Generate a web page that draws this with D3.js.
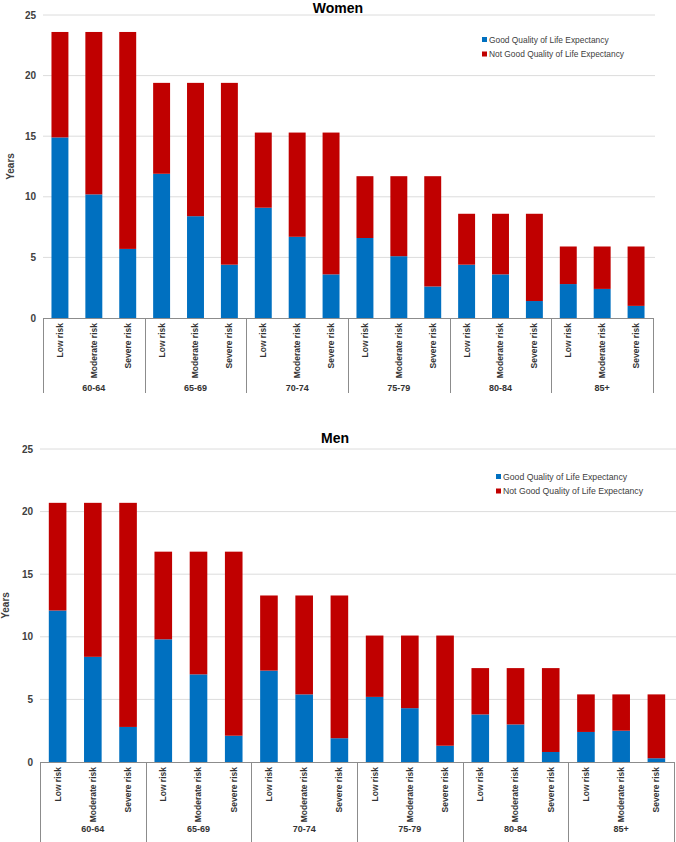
<!DOCTYPE html>
<html lang="en">
  <head>
    <meta charset="UTF-8" />
    <title>Quality of life expectancy by age and risk</title>
    <style>
      body { margin: 0; background: #fff; }
      svg { font-family: "Liberation Sans", Arial, sans-serif; }
    </style>
  </head>
  <body>
    <svg id="svg" width="676" height="842"></svg>

    <script src="https://d3js.org/d3.v7.min.js"></script>
    <script>
      // categories
      const ageGroups = ["60-64", "65-69", "70-74", "75-79", "80-84", "85+"];
      const riskLevels = ["Low risk", "Moderate risk", "Severe risk"];
      const seriesNames = ["Good Quality of Life Expectancy", "Not Good Quality of Life Expectancy"];
      const yTicks = [0, 5, 10, 15, 20, 25];

      // values, in bar order (age group, then risk level)
      const womenGood = [14.9, 10.2, 5.7, 11.9, 8.4, 4.4, 9.1, 6.7, 3.6, 6.6, 5.1, 2.6, 4.4, 3.6, 1.4, 2.8, 2.4, 1.0];
      const womenNotGood = [8.7, 13.4, 17.9, 7.5, 11.0, 15.0, 6.2, 8.6, 11.7, 5.1, 6.6, 9.1, 4.2, 5.0, 7.2, 3.1, 3.5, 4.9];
      const menGood = [12.1, 8.4, 2.8, 9.8, 7.0, 2.1, 7.3, 5.4, 1.9, 5.2, 4.3, 1.3, 3.8, 3.0, 0.8, 2.4, 2.5, 0.3];
      const menNotGood = [8.6, 12.3, 17.9, 7.0, 9.8, 14.7, 6.0, 7.9, 11.4, 4.9, 5.8, 8.8, 3.7, 4.5, 6.7, 3.0, 2.9, 5.1];

      const colors = ["#0070c0", "#c00000"];
      const svg = d3.select("#svg");

      function drawPanel(p) {
        const g = svg.append("g");
        const rows = [];
        ageGroups.forEach((a, i) => {
          riskLevels.forEach((r, j) => {
            const k = i * riskLevels.length + j;
            rows.push({ key: a + "|" + r, age: a, risk: r, good: p.good[k], notGood: p.notGood[k] });
          });
        });

        const x = d3.scaleBand().domain(rows.map((d) => d.key)).range([p.left, p.right]).paddingInner(0.5).paddingOuter(0.25);
        const y = d3.scaleLinear().domain([0, 25]).range([p.bottom, p.top]);

        // grid lines
        g.selectAll(".grid")
          .data(yTicks.slice(1))
          .enter()
          .append("line")
          .attr("x1", p.left)
          .attr("x2", p.gridRight)
          .attr("y1", (d) => y(d))
          .attr("y2", (d) => y(d))
          .attr("stroke", "#dcdcdc")
          .attr("stroke-width", 1);

        // y tick labels
        g.selectAll(".ytick")
          .data(yTicks)
          .enter()
          .append("text")
          .attr("x", p.left - 7)
          .attr("y", (d) => y(d))
          .attr("dy", "0.35em")
          .attr("text-anchor", "end")
          .attr("font-size", 10)
          .attr("font-weight", "bold")
          .attr("fill", "#404040")
          .text((d) => d);

        g.append("text")
          .attr("transform", `translate(${p.yTitleX},${(p.top + p.bottom) / 2}) rotate(-90)`)
          .attr("text-anchor", "middle")
          .attr("dy", "0.35em")
          .attr("font-size", 10)
          .attr("font-weight", "bold")
          .attr("fill", "#404040")
          .text("Years");

        // stacked bars
        const stack = d3.stack().keys(["good", "notGood"])(rows);
        g.selectAll(".series")
          .data(stack)
          .enter()
          .append("g")
          .attr("fill", (d, i) => colors[i])
          .selectAll("rect")
          .data((d) => d)
          .enter()
          .append("rect")
          .attr("x", (d) => x(d.data.key))
          .attr("width", x.bandwidth())
          .attr("y", (d) => y(d[1]))
          .attr("height", (d) => y(d[0]) - y(d[1]));

        // x axis line
        g.append("line")
          .attr("x1", p.left)
          .attr("x2", p.right)
          .attr("y1", p.bottom + 0.5)
          .attr("y2", p.bottom + 0.5)
          .attr("stroke", "#8c8c8c");

        // group separators
        const groupW = (p.right - p.left) / ageGroups.length;
        g.selectAll(".sep")
          .data(d3.range(ageGroups.length + 1))
          .enter()
          .append("line")
          .attr("x1", (d) => Math.round(p.left + d * groupW) + 0.5)
          .attr("x2", (d) => Math.round(p.left + d * groupW) + 0.5)
          .attr("y1", p.bottom)
          .attr("y2", p.sepBottom)
          .attr("stroke", "#8c8c8c");

        // risk labels (rotated)
        g.selectAll(".risk")
          .data(rows)
          .enter()
          .append("text")
          .attr("transform", (d) => `translate(${x(d.key) + x.bandwidth() / 2},${p.bottom + 5}) rotate(-90)`)
          .attr("text-anchor", "end")
          .attr("dy", "0.35em")
          .attr("font-size", 8.5)
          .attr("font-weight", "bold")
          .attr("fill", "#333")
          .text((d) => d.risk);

        // age group labels
        g.selectAll(".age")
          .data(ageGroups)
          .enter()
          .append("text")
          .attr("x", (d, i) => p.left + (i + 0.5) * groupW)
          .attr("y", p.ageY)
          .attr("dy", "0.35em")
          .attr("text-anchor", "middle")
          .attr("font-size", 9)
          .attr("font-weight", "bold")
          .attr("fill", "#333")
          .text((d) => d);

        // title
        g.append("text")
          .attr("x", p.titleX)
          .attr("y", p.titleY)
          .attr("text-anchor", "middle")
          .attr("font-size", 14)
          .attr("font-weight", "bold")
          .attr("fill", "#000")
          .text(p.title);

        // legend
        const lg = g.selectAll(".legend")
          .data(seriesNames)
          .enter()
          .append("g")
          .attr("transform", (d, i) => `translate(${p.legendX},${p.legendY + i * 14.5})`);
        lg.append("rect")
          .attr("x", 0)
          .attr("y", -3)
          .attr("width", 5)
          .attr("height", 5)
          .attr("fill", (d, i) => colors[i]);
        lg.append("text")
          .attr("x", 7)
          .attr("y", 0)
          .attr("dy", "0.32em")
          .attr("font-size", p.legendSize)
          .attr("fill", "#404040")
          .text((d) => d);
      }

      drawPanel({
        title: "Women", good: womenGood, notGood: womenNotGood,
        left: 43, right: 653, gridRight: 655, top: 15, bottom: 318,
        sepBottom: 393, ageY: 388, yTitleX: 10,
        titleX: 338, titleY: 13, legendX: 482, legendY: 40, legendSize: 8.4
      });

      drawPanel({
        title: "Men", good: menGood, notGood: menNotGood,
        left: 40, right: 674, gridRight: 676, top: 449, bottom: 762,
        sepBottom: 842, ageY: 829, yTitleX: 5,
        titleX: 335, titleY: 443, legendX: 496, legendY: 477, legendSize: 8.7
      });
    </script>
  </body>
</html>
